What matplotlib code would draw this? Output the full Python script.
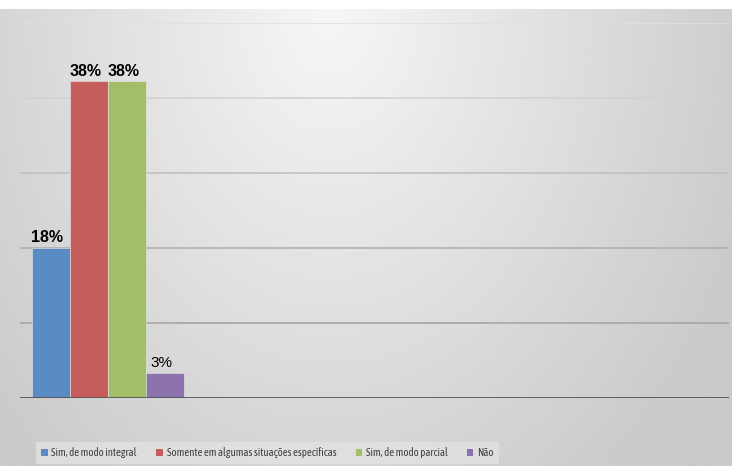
import numpy as np
import matplotlib.pyplot as plt
from matplotlib.patches import Patch

series = ["Sim, de modo integral", "Somente em algumas situações específicas",
          "Sim, de modo parcial", "Não"]
values = [18, 38, 38, 3]
labels = ["18%", "38%", "38%", "3%"]
bold = [True, True, True, False]
colors = ["#5b8bc4", "#c55e5b", "#a2be69", "#8c73ab"]

W, H = 732, 466
fig = plt.figure(figsize=(W / 100, H / 100), dpi=100)
fig.patch.set_facecolor("white")

# shaded backdrop (light in the upper middle, darker towards the edges)
bg = fig.add_axes([0, 0, 1, (H - 9) / H], zorder=-5)
gx, gy = np.meshgrid(np.linspace(0, 1, 400), np.linspace(0, 1, 260))
r = np.sqrt(((gx - 0.45) / 0.6) ** 2 + (gy / 1.3) ** 2)
shade = np.clip(0.965 - 0.17 * r, 0.79, 1)
bg.imshow(shade, cmap="gray", vmin=0, vmax=1, aspect="auto",
          extent=[0, 1, 1, 0], interpolation="bilinear")
bg.axis("off")

ax = fig.add_axes([20 / W, 68 / H, 709 / W, 375 / H])
ax.patch.set_alpha(0)

x = np.arange(len(values))
ax.bar(x, values, width=0.98, color=colors, edgecolor="#e8e8e8",
       linewidth=0.4, zorder=3)

for xi, v, t, b in zip(x, values, labels, bold):
    ax.annotate(t, (xi - 0.1, v), xytext=(0, 2), textcoords="offset points",
                ha="center", va="bottom", fontsize=11.5 if b else 11,
                fontweight="bold" if b else "normal", color="black",
                family="Liberation Sans", zorder=4)

# 38 px per bar slot, bars start 12 px right of the axis
px = 38.0
ax.set_xlim(-0.5 - 12 / px, -0.5 + (709 - 12) / px)
ax.set_ylim(0, 45)

grid_cols = ["#a6a6a6", "#b0b0b0", "#c0c0c0", "#d2d2d2", "#e0e0e0"]
for yv, c in zip([9, 18, 27, 36, 45], grid_cols):
    ax.axhline(yv, color=c, lw=1.2, zorder=1)
ax.axhline(0, color="#555555", lw=2, zorder=4)

ax.set_xticks([])
ax.set_yticks([])
for s in ax.spines.values():
    s.set_visible(False)

handles = [Patch(facecolor=c, edgecolor="none") for c in colors]


def make_legend(size):
    lg = fig.legend(handles, series, loc="center", bbox_to_anchor=(267.5 / W, 13 / H),
                    ncol=4, frameon=True, handlelength=0.6,
                    handleheight=0.6, handletextpad=0.35, columnspacing=1.8,
                    borderpad=0.5,
                    prop={"family": ["Asap Condensed", "Barlow Semi Condensed",
                                     "Liberation Sans"], "size": size})
    lg.get_frame().set_facecolor("#e2e2e2")
    lg.get_frame().set_edgecolor("none")
    lg.get_frame().set_boxstyle("square", pad=0)
    for t in lg.get_texts():
        t.set_color("#404040")
    return lg


# shrink the legend font until the box is about 473 px wide
size = 9.5
leg = make_legend(size)
renderer = fig.canvas.get_renderer()
while leg.get_window_extent(renderer).width > 475 and size > 6:
    leg.remove()
    size -= 0.25
    leg = make_legend(size)

fig.savefig("out.png", dpi=100)
